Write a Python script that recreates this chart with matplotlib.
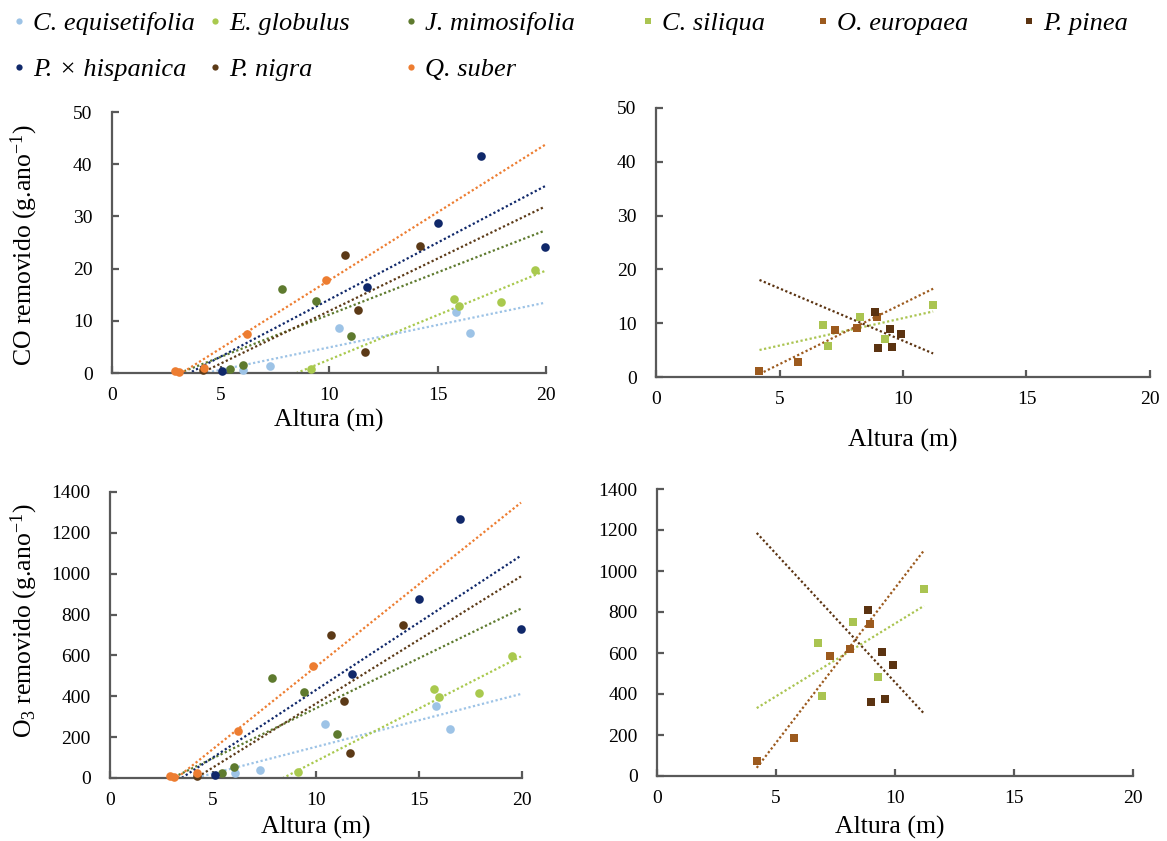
import matplotlib
matplotlib.use('Agg')
import matplotlib.pyplot as plt
from matplotlib.lines import Line2D
import numpy as np

plt.rcParams['font.family'] = ['Liberation Serif', 'DejaVu Serif']
plt.rcParams['mathtext.fontset'] = 'custom'
plt.rcParams['mathtext.rm'] = 'Liberation Serif'
plt.rcParams['mathtext.it'] = 'Liberation Serif:italic'

# ---------------- data (left panels, circles) ----------------
ceq_h = [6.05, 7.30, 10.45, 15.83, 16.52]
ceq_co = [0.6, 1.3, 8.6, 11.6, 7.7]
ceq_o3 = [26, 39, 266, 352, 240]

egl_h = [9.15, 15.75, 15.98, 17.93, 19.50]
egl_co = [0.8, 14.1, 12.9, 13.6, 19.7]
egl_o3 = [28, 434, 396, 415, 597]

jmi_h = [5.43, 6.04, 7.84, 9.40, 11.03]
jmi_co = [0.8, 1.5, 16.1, 13.8, 7.0]
jmi_o3 = [26, 52, 491, 422, 215]

phi_h = [5.08, 11.76, 15.00, 17.01, 19.95]
phi_co = [0.4, 16.5, 28.7, 41.6, 24.1]
phi_o3 = [15, 509, 875, 1269, 729]

pni_h = [4.20, 10.72, 11.34, 11.64, 14.21]
pni_co = [0.5, 22.6, 12.1, 4.0, 24.3]
pni_o3 = [10, 698, 378, 121, 747]

qsu_h = [2.92, 3.09, 4.22, 6.23, 9.84]
qsu_co = [0.4, 0.1, 1.0, 7.5, 17.8]
qsu_o3 = [10, 4, 23, 230, 548]

# ---------------- data (right panels, squares) ----------------
csi_h = [6.78, 6.95, 8.24, 9.29, 11.22]
csi_co = [9.67, 5.8, 11.1, 7.06, 13.4]
csi_o3 = [649, 392, 750, 481, 912]

oeu_h = [4.19, 5.76, 7.26, 8.12, 8.93]
oeu_co = [1.1, 2.7, 8.7, 9.2, 11.1]
oeu_o3 = [73, 187, 587, 618, 743]

ppi_h = [8.87, 9.46, 9.90, 8.98, 9.56]
ppi_co = [12.1, 8.9, 8.0, 5.4, 5.6]
ppi_o3 = [811, 605, 541, 361, 374]

left_names = ['C. equisetifolia', 'E. globulus', 'J. mimosifolia',
              'P. × hispanica', 'P. nigra', 'Q. suber']
left_colors = ['#9DC3E6', '#A9C94E', '#5E7A2E', '#10286A', '#5C3A17', '#ED7D31']
left_h = [ceq_h, egl_h, jmi_h, phi_h, pni_h, qsu_h]
left_co = [ceq_co, egl_co, jmi_co, phi_co, pni_co, qsu_co]
left_o3 = [ceq_o3, egl_o3, jmi_o3, phi_o3, pni_o3, qsu_o3]

right_names = ['C. siliqua', 'O. europaea', 'P. pinea']
right_colors = ['#AAC451', '#9C5A1E', '#5B3311']
right_h = [csi_h, oeu_h, ppi_h]
right_co = [csi_co, oeu_co, ppi_co]
right_o3 = [csi_o3, oeu_o3, ppi_o3]

x_ticks = [0, 5, 10, 15, 20]
co_ticks = [0, 10, 20, 30, 40, 50]
o3_ticks = [0, 200, 400, 600, 800, 1000, 1200, 1400]

# ---------------- figure ----------------
W, H = 1167, 841
fig = plt.figure(figsize=(W / 100, H / 100), dpi=100)


def px_axes(l, r, t, b):
    return fig.add_axes([l / W, 1 - b / H, (r - l) / W, (b - t) / H])


ax_tl = px_axes(112, 546, 112, 373)
ax_tr = px_axes(656, 1150, 108, 377)
ax_bl = px_axes(110, 522, 492, 778)
ax_br = px_axes(657, 1133, 489, 776)

spine_c = '#595959'


def style(ax, yticks):
    ax.set_xlim(0, 20)
    ax.set_ylim(yticks[0], yticks[-1])
    ax.set_xticks(x_ticks)
    ax.set_yticks(yticks)
    for s in ['top', 'right']:
        ax.spines[s].set_visible(False)
    for s in ['left', 'bottom']:
        ax.spines[s].set_color(spine_c)
        ax.spines[s].set_linewidth(1.6)
    ax.tick_params(direction='in', length=5, width=1.6, color=spine_c,
                   labelsize=14, labelcolor='black')
    ax.tick_params(axis='y', pad=14)
    ax.tick_params(axis='x', pad=10)


def draw(ax, hs, vals, colors, marker, ms):
    allx = np.concatenate([np.asarray(h, float) for h in hs])
    xs = np.linspace(allx.min(), allx.max(), 50)
    for h, v, c in zip(hs, vals, colors):
        k, b0 = np.polyfit(h, v, 1)
        ax.plot(xs, k * xs + b0, color=c, lw=1.6, linestyle=(0, (1, 1.1)),
                zorder=2, clip_on=True)
        ax.plot(h, v, linestyle='none', marker=marker, ms=ms, color=c,
                markeredgewidth=0, zorder=3, clip_on=False)


style(ax_tl, co_ticks)
style(ax_tr, co_ticks)
style(ax_bl, o3_ticks)
style(ax_br, o3_ticks)

draw(ax_tl, left_h, left_co, left_colors, 'o', 6.2)
draw(ax_bl, left_h, left_o3, left_colors, 'o', 6.2)
draw(ax_tr, right_h, right_co, right_colors, 's', 6.2)
draw(ax_br, right_h, right_o3, right_colors, 's', 6.2)

lab_fs = 18.5
ax_tl.set_ylabel(r'CO removido (g.ano$^{\mathregular{-1}}$)', fontsize=lab_fs)
ax_bl.set_ylabel(r'O$_{\mathregular{3}}$ removido (g.ano$^{\mathregular{-1}}$)', fontsize=lab_fs)
ax_tl.yaxis.set_label_coords((40 - 112) / 434, 0.49)
ax_bl.yaxis.set_label_coords((40 - 110) / 412, 0.55)

for ax, xf, yf in [(ax_tl, 0.5, -0.18), (ax_tr, 0.5, -0.235),
                   (ax_bl, 0.5, -0.172), (ax_br, 0.49, -0.181)]:
    ax.set_xlabel('Altura (m)', fontsize=lab_fs)
    ax.xaxis.set_label_coords(xf, yf)
    ax.xaxis.label.set_va('center')

# ---------------- legends ----------------
leg_fs = 19


def add_col(names, colors, marker, ms, x_marker, y_top):
    handles = [Line2D([], [], linestyle='none', marker=marker, ms=ms,
                      color=c, markeredgewidth=0) for c in colors]
    fig.legend(handles, names, loc='upper left',
               bbox_to_anchor=((x_marker - 4) / W, 1 - y_top / H),
               frameon=False, borderpad=0, borderaxespad=0,
               handlelength=0.3, handletextpad=0.40, labelspacing=0.85,
               prop={'style': 'italic', 'size': leg_fs})


add_col([left_names[0], left_names[3]], [left_colors[0], left_colors[3]], 'o', 4.5, 19, 12)
add_col([left_names[1], left_names[4]], [left_colors[1], left_colors[4]], 'o', 4.5, 215, 12)
add_col([left_names[2], left_names[5]], [left_colors[2], left_colors[5]], 'o', 4.5, 411, 12)
add_col([right_names[0]], [right_colors[0]], 's', 4.5, 648, 12)
add_col([right_names[1]], [right_colors[1]], 's', 4.5, 823, 12)
add_col([right_names[2]], [right_colors[2]], 's', 4.5, 1029, 12)

fig.savefig('out.png', dpi=100)
